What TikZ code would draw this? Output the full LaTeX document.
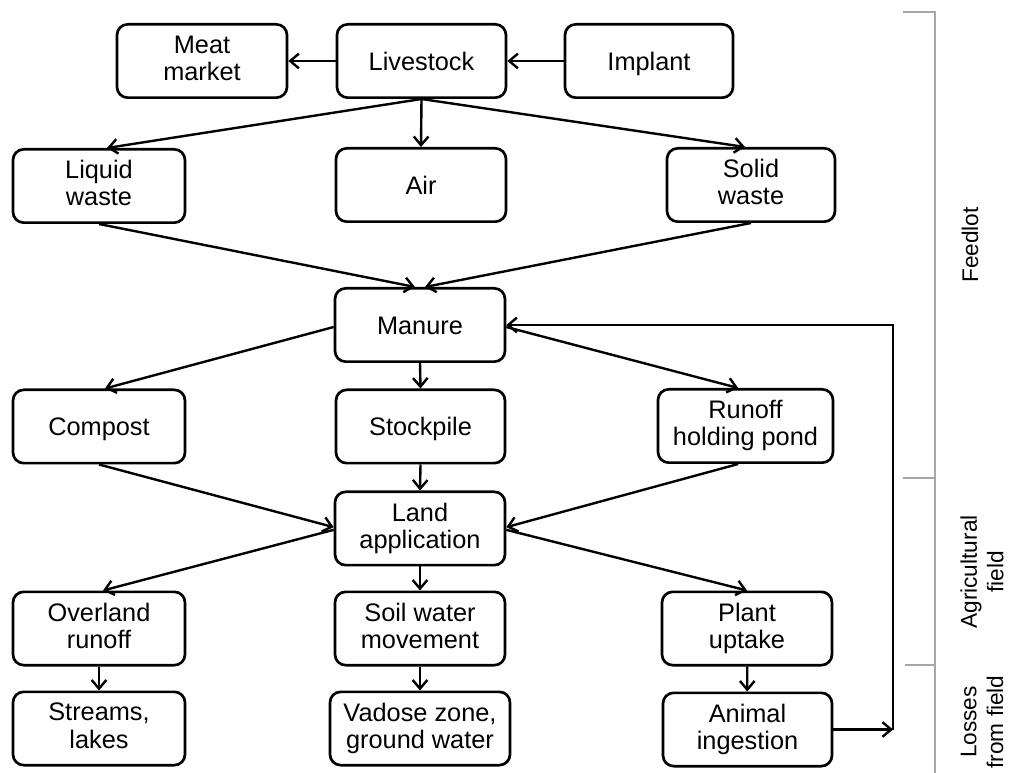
\documentclass[tikz,border=0pt]{standalone}
\usepackage{fontspec}
\setmainfont{Liberation Sans}
\usetikzlibrary{arrows.meta,calc}
\newcommand\boxstrut{\rule[-4.5pt]{0pt}{22.7pt}}
\begin{document}
\begin{tikzpicture}[x=0.75pt,y=-0.75pt,
  box/.style={draw,line width=2pt,rounded corners=8pt,align=center,
    minimum height=55pt,inner sep=0pt,font=\fontsize{19}{20.5}\selectfont,
    execute at begin node=\boxstrut,execute at end node=\boxstrut},
  wd/.style={minimum width=#1*0.75pt},
  arr/.style={line width=1.8pt,-{Straight Barb[length=6.5pt,width=11pt,line width=1.8pt]}},
  brk/.style={draw=black!35,line width=1.2pt},
  side/.style={rotate=90,align=center,font=\fontsize{17}{20}\selectfont}]
\useasboundingbox (0,0) rectangle (1011,773);
% row 1
\node[box,wd=170] (meat) at (202,61) {Meat\\market};
\node[box,wd=169] (live) at (421.5,61) {Livestock};
\node[box,wd=168] (impl) at (649,61) {Implant};
% row 2
\node[box,wd=172] (liq) at (99,186) {Liquid\\waste};
\node[box,wd=170] (air) at (421,185) {Air};
\node[box,wd=168] (sol) at (751,185) {Solid\\waste};
% row 3
\node[box,wd=170] (man) at (420,325) {Manure};
% row 4
\node[box,wd=172] (comp) at (99,426.5) {Compost};
\node[box,wd=169] (stock) at (420.5,426.5) {Stockpile};
\node[box,wd=175] (pond) at (745.5,426) {Runoff\\holding pond};
% row 5
\node[box,wd=170] (land) at (420,528.5) {Land\\application};
% row 6
\node[box,wd=172] (over) at (99,628.5) {Overland\\runoff};
\node[box,wd=170] (soil) at (420,628.5) {Soil water\\movement};
\node[box,wd=170] (plant) at (747,628.5) {Plant\\uptake};
% row 7
\node[box,wd=172] (stream) at (99,728.5) {Streams,\\lakes};
\node[box,wd=180] (vad) at (420,728.5) {Vadose zone,\\ground water};
\node[box,wd=169] (anim) at (747.5,729.5) {Animal\\ingestion};
% connectors
\draw[arr] (live) -- (meat);
\draw[arr] (impl) -- (live);
\draw[arr] (live.south) -- ([xshift=6pt]liq.north);
\draw[arr] (live.south) -- (air.north);
\draw[arr] (live.south) -- ([xshift=-4.5pt]sol.north);
\draw[arr] (liq.south) -- ([xshift=-3.75pt]man.north);
\draw[arr] (sol.south) -- ([xshift=3.75pt]man.north);
\draw[arr] ([yshift=-1.5pt]man.west) -- ([xshift=4.5pt]comp.north);
\draw[arr] (man.south) -- (stock.north);
\draw[arr] ([yshift=-1.5pt]man.east) -- ([xshift=-5.5pt]pond.north);
\draw[arr] (comp.south) -- ([yshift=1pt]land.west);
\draw[arr] ([xshift=-5.5pt]pond.south) -- ([yshift=1pt]land.east);
\draw[arr] (stock.south) -- (land.north);
\draw[arr] ([yshift=-1pt]land.west) -- ([xshift=3pt]over.north);
\draw[arr] (land.south) -- (soil.north);
\draw[arr] ([yshift=-1pt]land.east) -- (plant.north);
\draw[arr] (over) -- (stream);
\draw[arr] (soil) -- (vad);
\draw[arr] (plant) -- (anim);
\coordinate (fb) at (893,0);
\draw[arr] (anim.east) -- (anim.east -| fb);
\draw[arr] (anim.east -| fb) -- (fb |- man.east) -- (man.east);
% bracket
\coordinate (bt) at (935,12);
\coordinate (b1) at (935,478);
\coordinate (b2) at (935,665);
\coordinate (bb) at (935,780);
\draw[brk] (903,12) -- (bt) -- (bb);
\draw[brk] (903,478) -- (b1);
\draw[brk] (905,665) -- (b2);
\node[side] (feed) at (970,245) {Feedlot};
\node[side] (agri) at (982,572) {Agricultural\\field};
\node[side] (loss) at (982,722) {Losses\\from field};
\end{tikzpicture}
\end{document}
